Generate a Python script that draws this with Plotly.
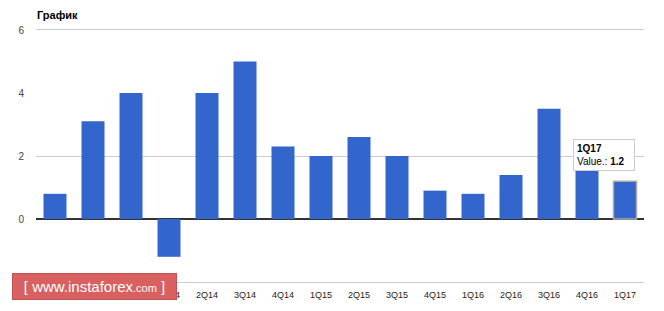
import plotly.graph_objects as go

categories = ["2Q13", "3Q13", "4Q13", "1Q14", "2Q14", "3Q14", "4Q14", "1Q15",
              "2Q15", "3Q15", "4Q15", "1Q16", "2Q16", "3Q16", "4Q16", "1Q17"]
values = [0.8, 3.1, 4.0, -1.2, 4.0, 5.0, 2.3, 2.0,
          2.6, 2.0, 0.9, 0.8, 1.4, 3.5, 2.1, 1.2]
y_ticks = [-2, 0, 2, 4, 6]
y_tick_labels = ["-2", "0", "2", "4", "6"]
grid_values = [-2, 2, 6]

W, H = 664, 311
ML, MR, MT, MB = 36, 20, 30, 29
pw, ph = W - ML - MR, H - MT - MB

def px_x(x):
    return (x - ML) / pw

def px_y(y):
    return (H - MB - y) / ph

line_colors = ["#3366cc"] * len(categories)
line_widths = [0] * len(categories)
line_colors[-1] = "#aaaaaa"
line_widths[-1] = 1.5

fig = go.Figure()
# invisible helper trace to carry the grid axis
fig.add_trace(go.Scatter(x=[categories[0]], y=[0], yaxis="y2", mode="markers",
                         marker=dict(opacity=0), hoverinfo="skip"))
fig.add_trace(go.Bar(
    x=categories, y=values,
    marker=dict(color="#3366cc", line=dict(color=line_colors, width=line_widths)),
    hoverinfo="skip",
))

fig.update_layout(
    width=W, height=H,
    margin=dict(l=ML, r=MR, t=MT, b=MB),
    paper_bgcolor="white", plot_bgcolor="white",
    bargap=0.395,
    showlegend=False,
    font=dict(family="Liberation Sans, Arial, sans-serif", size=10, color="#444"),
    title=dict(text="<b>График</b>", x=px_x(37), xref="paper", xanchor="left",
               y=1 - 15 / H, yref="container", yanchor="middle",
               font=dict(size=11, color="#000")),
    xaxis=dict(type="category", range=[-0.5, len(categories) - 0.5],
               showgrid=False, showline=True, mirror=True,
               linecolor="#cccccc", linewidth=1, ticks="",
               tickfont=dict(size=9, color="#222"), ticklabelstandoff=4),
    yaxis=dict(range=[-2, 6], tickvals=y_ticks, ticktext=y_tick_labels,
               showgrid=False,
               zeroline=True, zerolinecolor="#333333", zerolinewidth=1.5,
               showline=False, ticks="", tickfont=dict(size=10, color="#444"),
               ticklabelstandoff=11),
    yaxis2=dict(range=[-2, 6], overlaying="y", side="left", tickvals=grid_values,
                showticklabels=False, showgrid=True, gridcolor="#cccccc",
                gridwidth=1, zeroline=False, showline=False, ticks="",
                layer="below traces"),
)

fig.add_annotation(
    xref="paper", yref="paper", x=px_x(603.5), y=px_y(155),
    xanchor="center", yanchor="middle", showarrow=False, align="left",
    text="<b>1Q17</b><br>Value.: <b>1.2</b>",
    font=dict(size=10, color="#000"),
    bgcolor="white", bordercolor="#cccccc", borderwidth=1, borderpad=3,
    width=54,
)

fig.add_annotation(
    xref="paper", yref="paper", x=px_x(12), y=px_y(286),
    xanchor="left", yanchor="middle", showarrow=False, align="center",
    text="[ www.instaforex<span style='font-size:11px'>.com</span> ]",
    font=dict(size=15, color="white", family="Liberation Sans, Arial, sans-serif"),
    bgcolor="rgb(217,96,96)", bordercolor="rgb(200,80,80)",
    borderwidth=1, borderpad=2, width=159, height=21,
)

fig.write_html("out.html")
